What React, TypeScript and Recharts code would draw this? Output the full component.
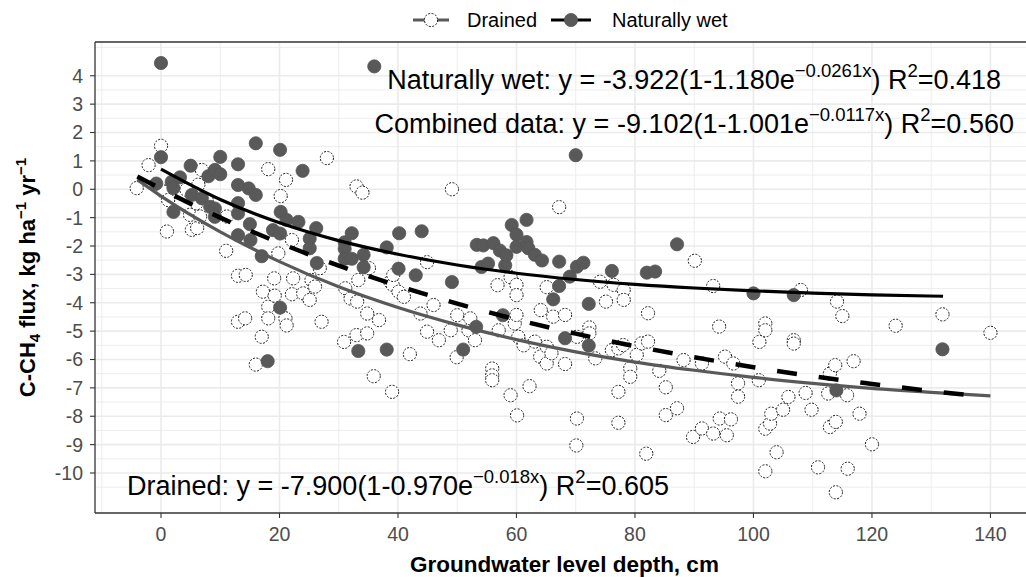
import {
  ComposedChart,
  Scatter,
  Line,
  XAxis,
  YAxis,
  CartesianGrid,
  ReferenceLine,
  ReferenceDot,
  Legend,
} from 'recharts';

const FONT = '"Liberation Sans", Arial, sans-serif';

const X_DOMAIN: [number, number] = [-11.14, 146];
const Y_DOMAIN: [number, number] = [-11.41, 5.19];
const xTicks = [0, 20, 40, 60, 80, 100, 120, 140];
const xMinor = [-10, 10, 30, 50, 70, 90, 110, 130];
const yTicks = [-10, -9, -8, -7, -6, -5, -4, -3, -2, -1, 0, 1, 2, 3, 4];
const yMinor = [-11, -10.5, -9.5, -8.5, -7.5, -6.5, -5.5, -4.5, -3.5, -2.5, -1.5, -0.5, 0.5, 1.5, 2.5, 3.5, 4.5, 5];

// drained sites: [groundwater depth, flux]
const drained: [number, number][] = [
  [-4.1, 0.04], [-2.1, 0.85], [0, 1.53], [0.4, -0.08], [1.2, -0.38], [1, -1.49], [4.3, -0.02], [4.9, -0.9],
  [5.2, -1.43], [6, -0.49], [6.1, -1.37], [6.3, 0.16], [6.6, -0.96], [6.9, 0.68], [7.7, -0.37], [11, -2.17],
  [11.1, -0.96], [13, -3.05], [14.3, -3.02], [13, -4.67], [14.2, -4.55], [16, -6.18], [17, -5.2], [17.2, -3.61],
  [18.1, 0.71], [18.1, -4.14], [18.1, -4.55], [19.1, -3.14], [19.2, -3.75], [19.8, -2.26], [20.2, -0.24],
  [21.1, 0.33], [21, -4.55], [21.2, -4.8], [22.1, -1.79], [22.1, -3.7], [22.3, -3.14], [24, -3.67], [25.1, -3.9],
  [25.4, -3.2], [26, -3.43], [26.8, -2.78], [27.1, -4.67], [28, 1.1], [30.9, -5.38], [31.1, -3.49], [32, -3.85],
  [33, 0.1], [33, -5.14], [33.1, -3.96], [33.3, -3.2], [34, -0.12], [34.8, -4.38], [34.8, -5.08], [35.1, -2.78],
  [35.9, -6.59], [36.8, -4.61], [38.7, -3.26], [39, -7.14], [39.1, -3.37], [39.2, -3.02], [40.1, -3.61],
  [41, -3.79], [42, -5.81], [43.8, -4.38], [44.9, -2.57], [44.9, -5.02], [46, -4.08], [46.9, -5.32], [48.9, -4.97],
  [49.1, 0], [49.9, -5.92], [50, -4.44], [51.9, -4.97], [52.2, -4.55], [53, -5.32], [55.9, -6.32], [55.9, -6.56],
  [55.9, -6.73], [56.8, -3.38], [57, -4.97], [59, -3.1], [59, -7.26], [59.7, -4.73], [60, -3.37], [60, -3.73],
  [60, -4.43], [60.3, -5.2], [60.1, -7.97], [61.2, -5.5], [62.2, -6.94], [63.1, -5.37], [64, -5.9], [64.1, -4.26],
  [65.1, -3.45], [65.1, -5.55], [65.1, -6.14], [65.9, -5.78], [66.2, -4.49], [67.2, -0.63], [68.2, -4.43],
  [68.2, -6.16], [70.2, -5.2], [70.2, -8.08], [70.1, -9.03], [72.3, -4.87], [72.3, -5.08], [73.3, -5.96],
  [74.1, -3.26], [75.1, -3.96], [76.1, -5.67], [76.4, -3.37], [77.2, -5.61], [77.2, -7.14], [77.2, -8.23],
  [78, -5.49], [78.1, -3.55], [78.1, -3.9], [79.2, -6.31], [79.2, -6.61], [80.3, -5.84], [81.1, -5.43],
  [81.9, -9.32], [82.2, -4.37], [82.2, -5.37], [84.1, -6.4], [85.2, -6.98], [85.2, -7.96], [87.1, -7.72],
  [88.2, -6.02], [89.8, -8.73], [90.1, -2.52], [91.3, -6.14], [91.3, -8.43], [93.2, -3.41], [93.2, -8.61],
  [94.2, -4.84], [94.3, -8.08], [95.2, -5.9], [95.5, -8.67], [96.2, -8.11], [96.6, -6.14], [97.4, -6.84],
  [97.4, -7.31], [100.9, -6.73], [101, -5.38], [102, -4.73], [102, -4.97], [102, -8.44], [102, -9.94],
  [102.8, -8.26], [103, -7.91], [103.9, -9.27], [105, -7.77], [105.9, -7.32], [106.8, -5.32], [106.8, -5.44],
  [108, -3.55], [108.8, -7.18], [109.8, -7.77], [110.9, -9.8], [112.6, -7.2], [112.9, -6.5], [112.9, -8.38],
  [113.8, -6.2], [113.9, -8.2], [113.9, -10.68], [114.1, -3.96], [115, -4.47], [115.8, -7.26], [115.9, -9.85],
  [116.9, -6.06], [117.9, -7.91], [120, -8.99], [124, -4.81], [131.9, -4.41], [140, -5.06],
];

// naturally wet sites
const wet: [number, number][] = [
  [-0.8, 0.2], [0, 4.45], [0, 1.13], [1.8, 0.26], [2.1, 0.04], [2.1, -0.8], [3.2, 0.42], [5, 0.83], [5.2, -0.2],
  [6.9, -0.32], [8, 0.46], [8.3, -0.62], [9.1, 0.68], [9.1, -0.68], [9.1, -0.97], [10, 1.14], [10, 0.53],
  [13, 0.88], [13, 0.15], [13, -0.49], [13, -0.85], [13, -1.62], [14.8, 0.03], [15, -1.23], [15.1, -1.79],
  [16, 1.62], [16, -0.2], [17, -2.36], [18, -6.06], [18.9, -1.44], [20.1, 1.39], [20.2, -0.8], [20.1, -1.56],
  [20.1, -4.17], [21.2, -1.08], [23.2, -1.15], [23.9, 0.65], [25.1, -1.74], [25.1, -2.08], [26.2, -1.37],
  [26.3, -2.6], [31, -1.87], [31, -2.1], [31, -2.45], [32.2, -1.55], [32.2, -2.45], [33.3, -5.7], [34.2, -2.31],
  [34.2, -2.75], [36, 4.33], [38.1, -2.05], [38.1, -5.65], [40.1, -2.8], [40.2, -1.55], [43, -3.03], [44, -1.48],
  [49.1, -3.27], [51, -5.65], [53.2, -4.85], [53.3, -1.96], [54.1, -2.74], [54.4, -1.98], [55.2, -2.62],
  [56.1, -1.9], [57.2, -2.16], [57.7, -4.44], [58.1, -2.68], [58.3, -2.33], [59.2, -1.26], [60, -1.6], [60, -2.03],
  [61.7, -1.08], [61.7, -1.86], [62, -2.08], [63.1, -2.31], [64.3, -2.51], [66.2, -3.88], [67.2, -2.55],
  [67.2, -3.41], [68.2, -5.25], [69, -3.08], [70, 1.2], [70.2, -2.73], [71.3, -2.59], [72.2, -4.04], [72.2, -5.51],
  [76.1, -2.88], [82, -2.94], [83.4, -2.9], [87.1, -1.94], [100, -3.67], [106.8, -3.73], [114, -7.09],
  [131.9, -5.64],
];

// fitted curves
const drainedFitX = [-4, 0, 10, 20, 30, 40, 50, 60, 70, 80, 90, 100, 110, 120, 130, 140];
const drainedFitY = [0.34, -0.24, -1.5, -2.55, -3.44, -4.17, -4.78, -5.3, -5.73, -6.09, -6.38, -6.63, -6.84, -7.02, -7.16, -7.28];
const wetFitX = [0, 10, 20, 30, 40, 50, 60, 70, 80, 90, 100, 110, 120, 132];
const wetFitY = [0.71, -0.36, -1.18, -1.81, -2.29, -2.67, -2.96, -3.18, -3.35, -3.48, -3.58, -3.66, -3.72, -3.77];
const combinedFitX = [-4, 0, 10, 20, 30, 40, 50, 60, 70, 80, 90, 100, 110, 120, 130, 137];
const combinedFitY = [0.45, 0.01, -1.0, -1.89, -2.69, -3.4, -4.03, -4.59, -5.09, -5.53, -5.92, -6.27, -6.59, -6.86, -7.11, -7.27];

const toXY = (pts: [number, number][]) => pts.map(([x, y]) => ({ x, y }));
const zipXY = (xs: number[], ys: number[]) => xs.map((x, i) => ({ x, y: ys[i] }));

const OpenDot = (p: any) => (
  <circle cx={p.cx} cy={p.cy} r={6.6} fill="#fff" stroke="#1a1a1a" strokeWidth={1} strokeDasharray="2 1.5" />
);
const FilledDot = (p: any) => (
  <circle cx={p.cx} cy={p.cy} r={6.6} fill="#595959" stroke="#555" strokeWidth={0.8} />
);

const eqLabel = (lead: string, expo: string, r2: string) => (props: any) => {
  const vb = props.viewBox || {};
  const cx = (vb.x ?? 0) + (vb.width ?? 0) / 2;
  const cy = (vb.y ?? 0) + (vb.height ?? 0) / 2;
  return (
    <text x={cx} y={cy} textAnchor="middle" fontFamily={FONT} fontSize={27} fill="#000">
      {lead}
      <tspan dy={-12} fontSize={18.5}>{expo}</tspan>
      <tspan dy={12}>) R</tspan>
      <tspan dy={-12} fontSize={18.5}>2</tspan>
      <tspan dy={12}>{'=' + r2}</tspan>
    </text>
  );
};

const yTitle = (props: any) => {
  const vb = props.viewBox || { x: 0, y: 42, width: 95, height: 471 };
  const cx = vb.x + 35;
  const cy = vb.y + vb.height / 2;
  return (
    <text
      x={cx}
      y={cy}
      transform={`rotate(-90 ${cx} ${cy})`}
      textAnchor="middle"
      fontFamily={FONT}
      fontWeight="bold"
      fontSize={22}
      fill="#000"
    >
      C-CH<tspan dy={5} fontSize={15}>4</tspan>
      <tspan dy={-5}> flux, kg ha</tspan>
      <tspan dy={-9} fontSize={15}>−1</tspan>
      <tspan dy={9}> yr</tspan>
      <tspan dy={-9} fontSize={15}>−1</tspan>
    </text>
  );
};

const xTitle = (props: any) => {
  const vb = props.viewBox || { x: 95, y: 513, width: 931, height: 64 };
  return (
    <text
      x={vb.x + vb.width / 2 + 4}
      y={vb.y + 59}
      textAnchor="middle"
      fontFamily={FONT}
      fontWeight="bold"
      fontSize={22.5}
      fill="#000"
    >
      Groundwater level depth, cm
    </text>
  );
};

const LegendBox = () => (
  <div style={{ position: 'relative', height: 40, fontFamily: FONT, fontSize: 20, color: '#000' }}>
    <svg width={36} height={20} style={{ position: 'absolute', left: 413, top: 10 }}>
      <line x1={0} y1={10} x2={36} y2={10} stroke="#595959" strokeWidth={3} />
      <circle cx={18} cy={10} r={6.6} fill="#fff" stroke="#1a1a1a" strokeWidth={1} strokeDasharray="2 1.5" />
    </svg>
    <span style={{ position: 'absolute', left: 467, top: 8, lineHeight: '24px' }}>Drained</span>
    <svg width={40} height={20} style={{ position: 'absolute', left: 551, top: 10 }}>
      <line x1={0} y1={10} x2={40} y2={10} stroke="#000" strokeWidth={3} />
      <circle cx={20} cy={10} r={6.6} fill="#595959" stroke="#555" strokeWidth={0.8} />
    </svg>
    <span style={{ position: 'absolute', left: 612, top: 8, lineHeight: '24px' }}>Naturally wet</span>
  </div>
);

const tickStyle = { fill: '#4d4d4d', fontSize: 19.5, fontFamily: FONT };

export default function App() {
  return (
    <div style={{ position: 'absolute', left: 0, top: 0, background: '#fff' }}>
      <ComposedChart width={1026} height={577} margin={{ top: 42, right: 0, bottom: 0, left: 0 }}>
        <CartesianGrid stroke="#ebebeb" strokeWidth={0.9} horizontalValues={yMinor} verticalValues={xMinor} />
        <CartesianGrid stroke="#ebebeb" strokeWidth={1.6} horizontalValues={yTicks} verticalValues={xTicks} />
        <XAxis
          type="number"
          dataKey="x"
          domain={X_DOMAIN}
          allowDataOverflow
          ticks={xTicks}
          height={64}
          tick={tickStyle}
          tickSize={5}
          tickMargin={9}
          tickLine={{ stroke: '#333', strokeWidth: 1.1 }}
          axisLine={{ stroke: '#333', strokeWidth: 1.3 }}
          label={xTitle}
        />
        <YAxis
          type="number"
          dataKey="y"
          domain={Y_DOMAIN}
          allowDataOverflow
          ticks={yTicks}
          width={95}
          tick={tickStyle}
          tickSize={5}
          tickMargin={7}
          tickLine={{ stroke: '#333', strokeWidth: 1.1 }}
          axisLine={{ stroke: '#333', strokeWidth: 1.3 }}
          label={yTitle}
        />
        <ReferenceLine y={Y_DOMAIN[1]} stroke="#333" strokeWidth={1.3} />
        <Legend
          verticalAlign="middle"
          layout="horizontal"
          wrapperStyle={{ top: 0, left: 0, width: 1026 }}
          content={() => <LegendBox />}
        />
        <Scatter name="Drained" data={toXY(drained)} shape={OpenDot} isAnimationActive={false} />
        <Scatter name="Naturally wet" data={toXY(wet)} shape={FilledDot} isAnimationActive={false} />
        <Line
          data={zipXY(drainedFitX, drainedFitY)}
          dataKey="y"
          type="monotone"
          stroke="#595959"
          strokeWidth={3.2}
          dot={false}
          activeDot={false}
          isAnimationActive={false}
          zIndex={700}
        />
        <Line
          data={zipXY(wetFitX, wetFitY)}
          dataKey="y"
          type="monotone"
          stroke="#000"
          strokeWidth={3.2}
          dot={false}
          activeDot={false}
          isAnimationActive={false}
          zIndex={700}
        />
        <Line
          data={zipXY(combinedFitX, combinedFitY)}
          dataKey="y"
          type="monotone"
          stroke="#000"
          strokeWidth={4.5}
          strokeDasharray="20 22"
          dot={false}
          activeDot={false}
          isAnimationActive={false}
          zIndex={700}
        />
        <ReferenceDot
          x={90}
          y={3.55}
          r={1}
          fill="none"
          stroke="none"
          label={eqLabel('Naturally wet: y = -3.922(1-1.180e', '−0.0261x', '0.418')}
        />
        <ReferenceDot
          x={90}
          y={1.99}
          r={1}
          fill="none"
          stroke="none"
          label={eqLabel('Combined data: y = -9.102(1-1.001e', '−0.0117x', '0.560')}
        />
        <ReferenceDot
          x={40}
          y={-10.78}
          r={1}
          fill="none"
          stroke="none"
          label={eqLabel('Drained: y = -7.900(1-0.970e', '−0.018x', '0.605')}
        />
      </ComposedChart>
    </div>
  );
}
